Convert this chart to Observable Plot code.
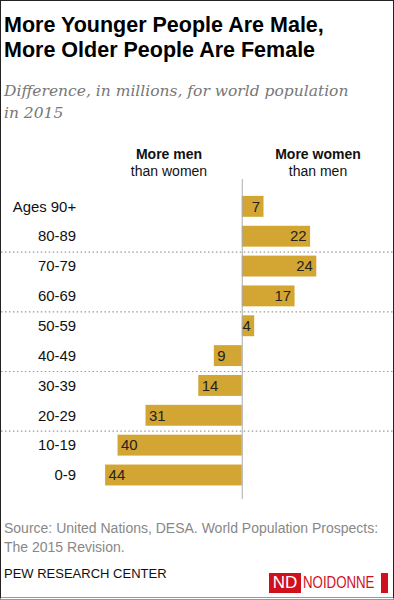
<!DOCTYPE html>
<html>
<head>
<meta charset="utf-8">
<script src="https://cdn.jsdelivr.net/npm/d3@7"></script>
<script src="https://cdn.jsdelivr.net/npm/@observablehq/plot@0.6"></script>
<style>
  html, body { margin: 0; padding: 0; background: #fff; }
  #frame { position: relative; width: 394px; height: 600px; box-sizing: border-box; border: 1px solid #222; border-bottom: 3px double #999; overflow: hidden; font-family: "Liberation Sans", Arial, sans-serif; }
  #title { position: absolute; left: 3px; top: 12px; font-family: "Liberation Sans", Arial, sans-serif; font-weight: bold; font-size: 21.5px; line-height: 25px; color: #000; }
  #subtitle { position: absolute; left: 3px; top: 79px; font-family: "DejaVu Serif", serif; font-style: italic; font-size: 15.5px; line-height: 22px; color: #777; }
  .hdr { position: absolute; top: 145px; width: 140px; text-align: center; font-size: 14px; line-height: 17px; color: #111; }
  .hdr b { font-weight: bold; }
  #chart { position: absolute; left: 0; top: 178px; }
  #source { position: absolute; left: 3px; top: 518px; font-size: 14px; line-height: 19px; color: #888; }
  #pew { position: absolute; left: 3px; top: 565px; font-size: 13px; color: #111; }
  #logo { position: absolute; left: 268px; top: 572px; height: 20px; width: 120px; }
  #logo .nd { position: absolute; left: 0; top: 0; height: 20px; background: #d0101d; color: #fff; width: 32px; text-align: center; font-size: 17px; line-height: 20px; }
  #logo .nm { position: absolute; left: 34px; top: 0; color: #d0101d; font-size: 17px; line-height: 20px; transform: scaleX(0.78); transform-origin: left center; white-space: nowrap; }
  #logo .wk { position: absolute; left: 112px; top: 0; height: 20px; background: #d0101d; width: 7px; }
</style>
</head>
<body>
<div id="frame">
  <div id="title">More Younger People Are Male,<br>More Older People Are Female</div>
  <div id="subtitle">Difference, in millions, for world population<br>in 2015</div>
  <div class="hdr" style="left:98px"><b>More men</b><br>than women</div>
  <div class="hdr" style="left:247px"><b>More women</b><br>than men</div>
  <div id="chart"></div>
  <div id="source">Source: United Nations, DESA. World Population Prospects:<br>The 2015 Revision.</div>
  <div id="pew">PEW RESEARCH CENTER</div>
  <div id="logo"><span class="nd">ND</span><span class="nm">NOIDONNE</span><span class="wk"></span></div>
</div>
<script>
const ages = ["Ages 90+", "80-89", "70-79", "60-69", "50-59", "40-49", "30-39", "20-29", "10-19", "0-9"];
const diffs = [7, 22, 24, 17, 4, -9, -14, -31, -40, -44];
const separatorsAfter = ["80-89", "60-69", "40-49", "20-29"];

const data = ages.map((a, i) => ({age: a, value: diffs[i], label: String(Math.abs(diffs[i]))}));
const pos = data.filter(d => d.value > 0);
const neg = data.filter(d => d.value < 0);

const chart = Plot.plot({
  width: 394,
  height: 322,
  marginTop: 8,
  marginBottom: 4,
  marginLeft: 80,
  marginRight: 0,
  x: {domain: [-51.9, 48.7], axis: null},
  y: {domain: ages, padding: 0.29, label: null},
  style: {fontFamily: "'Liberation Sans', Arial, sans-serif", color: "#111"},
  marks: [
    Plot.axisY({tickSize: 0, tickPadding: 5, fontSize: 15, fill: "#111", label: null}),
    Plot.ruleY(separatorsAfter, {y: d => d, dy: 15.5, stroke: "#999", strokeDasharray: "1.5,2.5", strokeWidth: 1.2, insetLeft: -80}),
    Plot.barX(data, {x: "value", y: "age", fill: "#d3a532"}),
    Plot.ruleX([0], {stroke: "#aaa", strokeWidth: 1, insetTop: -8, insetBottom: -4}),
    Plot.text(pos, {x: "value", y: "age", text: "label", textAnchor: "end", dx: -4, fontSize: 15, fill: "#222"}),
    Plot.text(neg, {x: "value", y: "age", text: "label", textAnchor: "start", dx: 3, fontSize: 15, fill: "#222"})
  ]
});
document.getElementById("chart").appendChild(chart);
</script>
</body>
</html>
